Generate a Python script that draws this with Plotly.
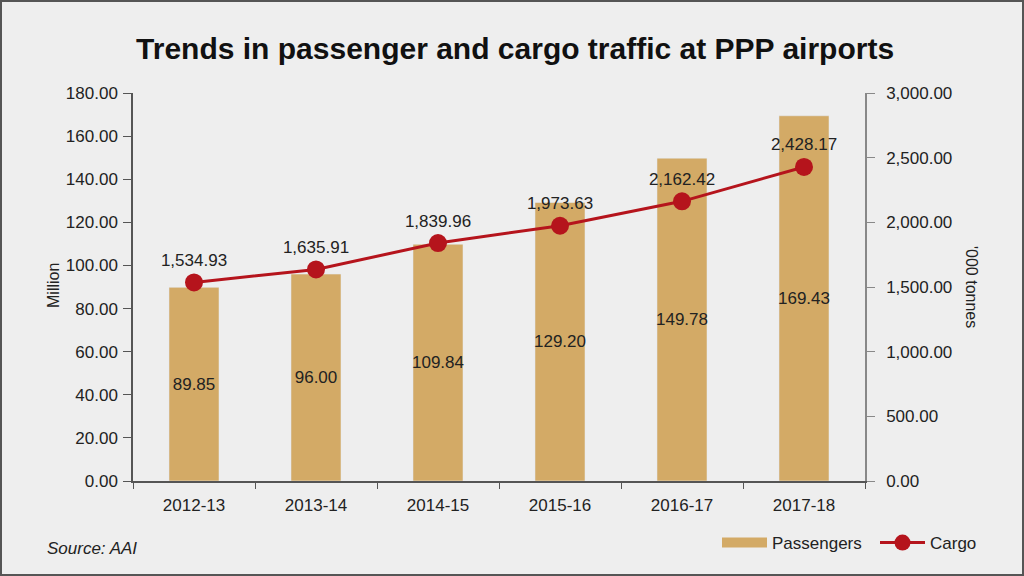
import plotly.graph_objects as go

# values
years = ['2012-13', '2013-14', '2014-15', '2015-16', '2016-17', '2017-18']
passengers = [89.85, 96.00, 109.84, 129.20, 149.78, 169.43]   # million
cargo = [1534.93, 1635.91, 1839.96, 1973.63, 2162.42, 2428.17]  # '000 tonnes

BAR_COLOR = '#d3aa66'
LINE_COLOR = '#b5141c'
BG = '#eeeeee'
FONT = 'Liberation Sans, Arial, sans-serif'
FS = 17

# plot area in pixels: x 133..865, y 93..481
W, H = 1024, 576
L, R, T, B = 133, 159, 93, 95
pw, ph = W - L - R, H - T - B


def px_x(x):
    return (x - L) / pw


def px_y(y):
    return (H - B - y) / ph


fig = go.Figure()

fig.add_trace(go.Bar(
    x=years,
    y=passengers,
    name='Passengers',
    marker_color=BAR_COLOR,
    texttemplate='%{y:.2f}',
    textposition='inside',
    insidetextanchor='middle',
    textangle=0,
    textfont=dict(family=FONT, size=FS, color='#222222'),
    cliponaxis=False,
    showlegend=False,
))

fig.add_trace(go.Scatter(
    x=years,
    y=cargo,
    name='Cargo',
    yaxis='y2',
    mode='lines+markers+text',
    line=dict(color=LINE_COLOR, width=3),
    marker=dict(color=LINE_COLOR, size=18),
    texttemplate='%{y:,.2f}',
    textposition='top center',
    textfont=dict(family=FONT, size=FS, color='#222222'),
    showlegend=False,
))

# legend entries (wide swatch for the bars)
fig.add_trace(go.Scatter(
    x=[None], y=[None], name='Passengers', mode='lines',
    line=dict(color=BAR_COLOR, width=14),
))
fig.add_trace(go.Scatter(
    x=[None], y=[None], name='Cargo', mode='lines+markers', yaxis='y2',
    line=dict(color=LINE_COLOR, width=3),
    marker=dict(color=LINE_COLOR, size=16),
))

fig.update_layout(
    width=W,
    height=H,
    margin=dict(l=L, r=R, t=T, b=B, autoexpand=False),
    paper_bgcolor=BG,
    plot_bgcolor=BG,
    font=dict(family=FONT, size=FS, color='#333333'),
    bargap=0.59,
    uniformtext=dict(minsize=FS, mode='show'),
    title=dict(
        text='<b>Trends in passenger and cargo traffic at PPP airports</b>',
        x=0.503, xanchor='center',
        y=1 - 48 / H, yanchor='middle',
        font=dict(family=FONT, size=30, color='#111111'),
    ),
    xaxis=dict(
        showgrid=False,
        showline=True, linecolor='#555555', linewidth=1.5,
        ticks='outside', tickson='boundaries', ticklen=6,
        tickcolor='#555555', ticklabelstandoff=8,
        tickfont=dict(size=FS, color='#222222'),
    ),
    yaxis=dict(
        range=[0, 180], dtick=20, tickformat='.2f',
        showgrid=False, zeroline=False,
        showline=True, linecolor='#555555', linewidth=1.5,
        ticks='outside', ticklen=8, tickcolor='#555555',
        ticklabelstandoff=2,
        tickfont=dict(size=FS, color='#222222'),
    ),
    yaxis2=dict(
        range=[0, 3000], dtick=500, tickformat=',.2f',
        overlaying='y', side='right', anchor='x',
        showgrid=False, zeroline=False,
        showline=True, linecolor='#888888', linewidth=1.5,
        ticks='outside', ticklen=8, tickcolor='#888888',
        ticklabelstandoff=8,
        tickfont=dict(size=FS, color='#222222'),
    ),
    legend=dict(
        orientation='h',
        x=px_x(717), xanchor='left',
        y=px_y(543), yanchor='middle',
        bgcolor='rgba(0,0,0,0)',
        itemwidth=45,
        entrywidth=98, entrywidthmode='pixels',
        font=dict(size=FS, color='#222222'),
    ),
)

# axis titles
fig.add_annotation(
    text='Million', textangle=-90,
    x=px_x(53), y=px_y(286), xref='paper', yref='paper',
    xanchor='center', yanchor='middle',
    showarrow=False, font=dict(size=16, color='#222222'),
)
# right axis title reads top to bottom
fig.add_annotation(
    text="'000 tonnes", textangle=90,
    x=px_x(972), y=px_y(287), xref='paper', yref='paper',
    xanchor='center', yanchor='middle',
    showarrow=False, font=dict(size=16, color='#222222'),
)

fig.add_annotation(
    text='<i>Source: AAI</i>',
    x=px_x(45), y=px_y(548), xref='paper', yref='paper',
    xanchor='left', yanchor='middle',
    showarrow=False, font=dict(size=17, color='#222222'),
)

# frame around the whole graphic
fig.add_shape(
    type='rect', xref='paper', yref='paper',
    x0=px_x(1), x1=px_x(1023), y0=px_y(575), y1=px_y(1),
    line=dict(color='#555555', width=2), layer='above',
)

fig.write_html('out.html', config={'displayModeBar': False},
               post_script="document.body.style.margin='0';")
